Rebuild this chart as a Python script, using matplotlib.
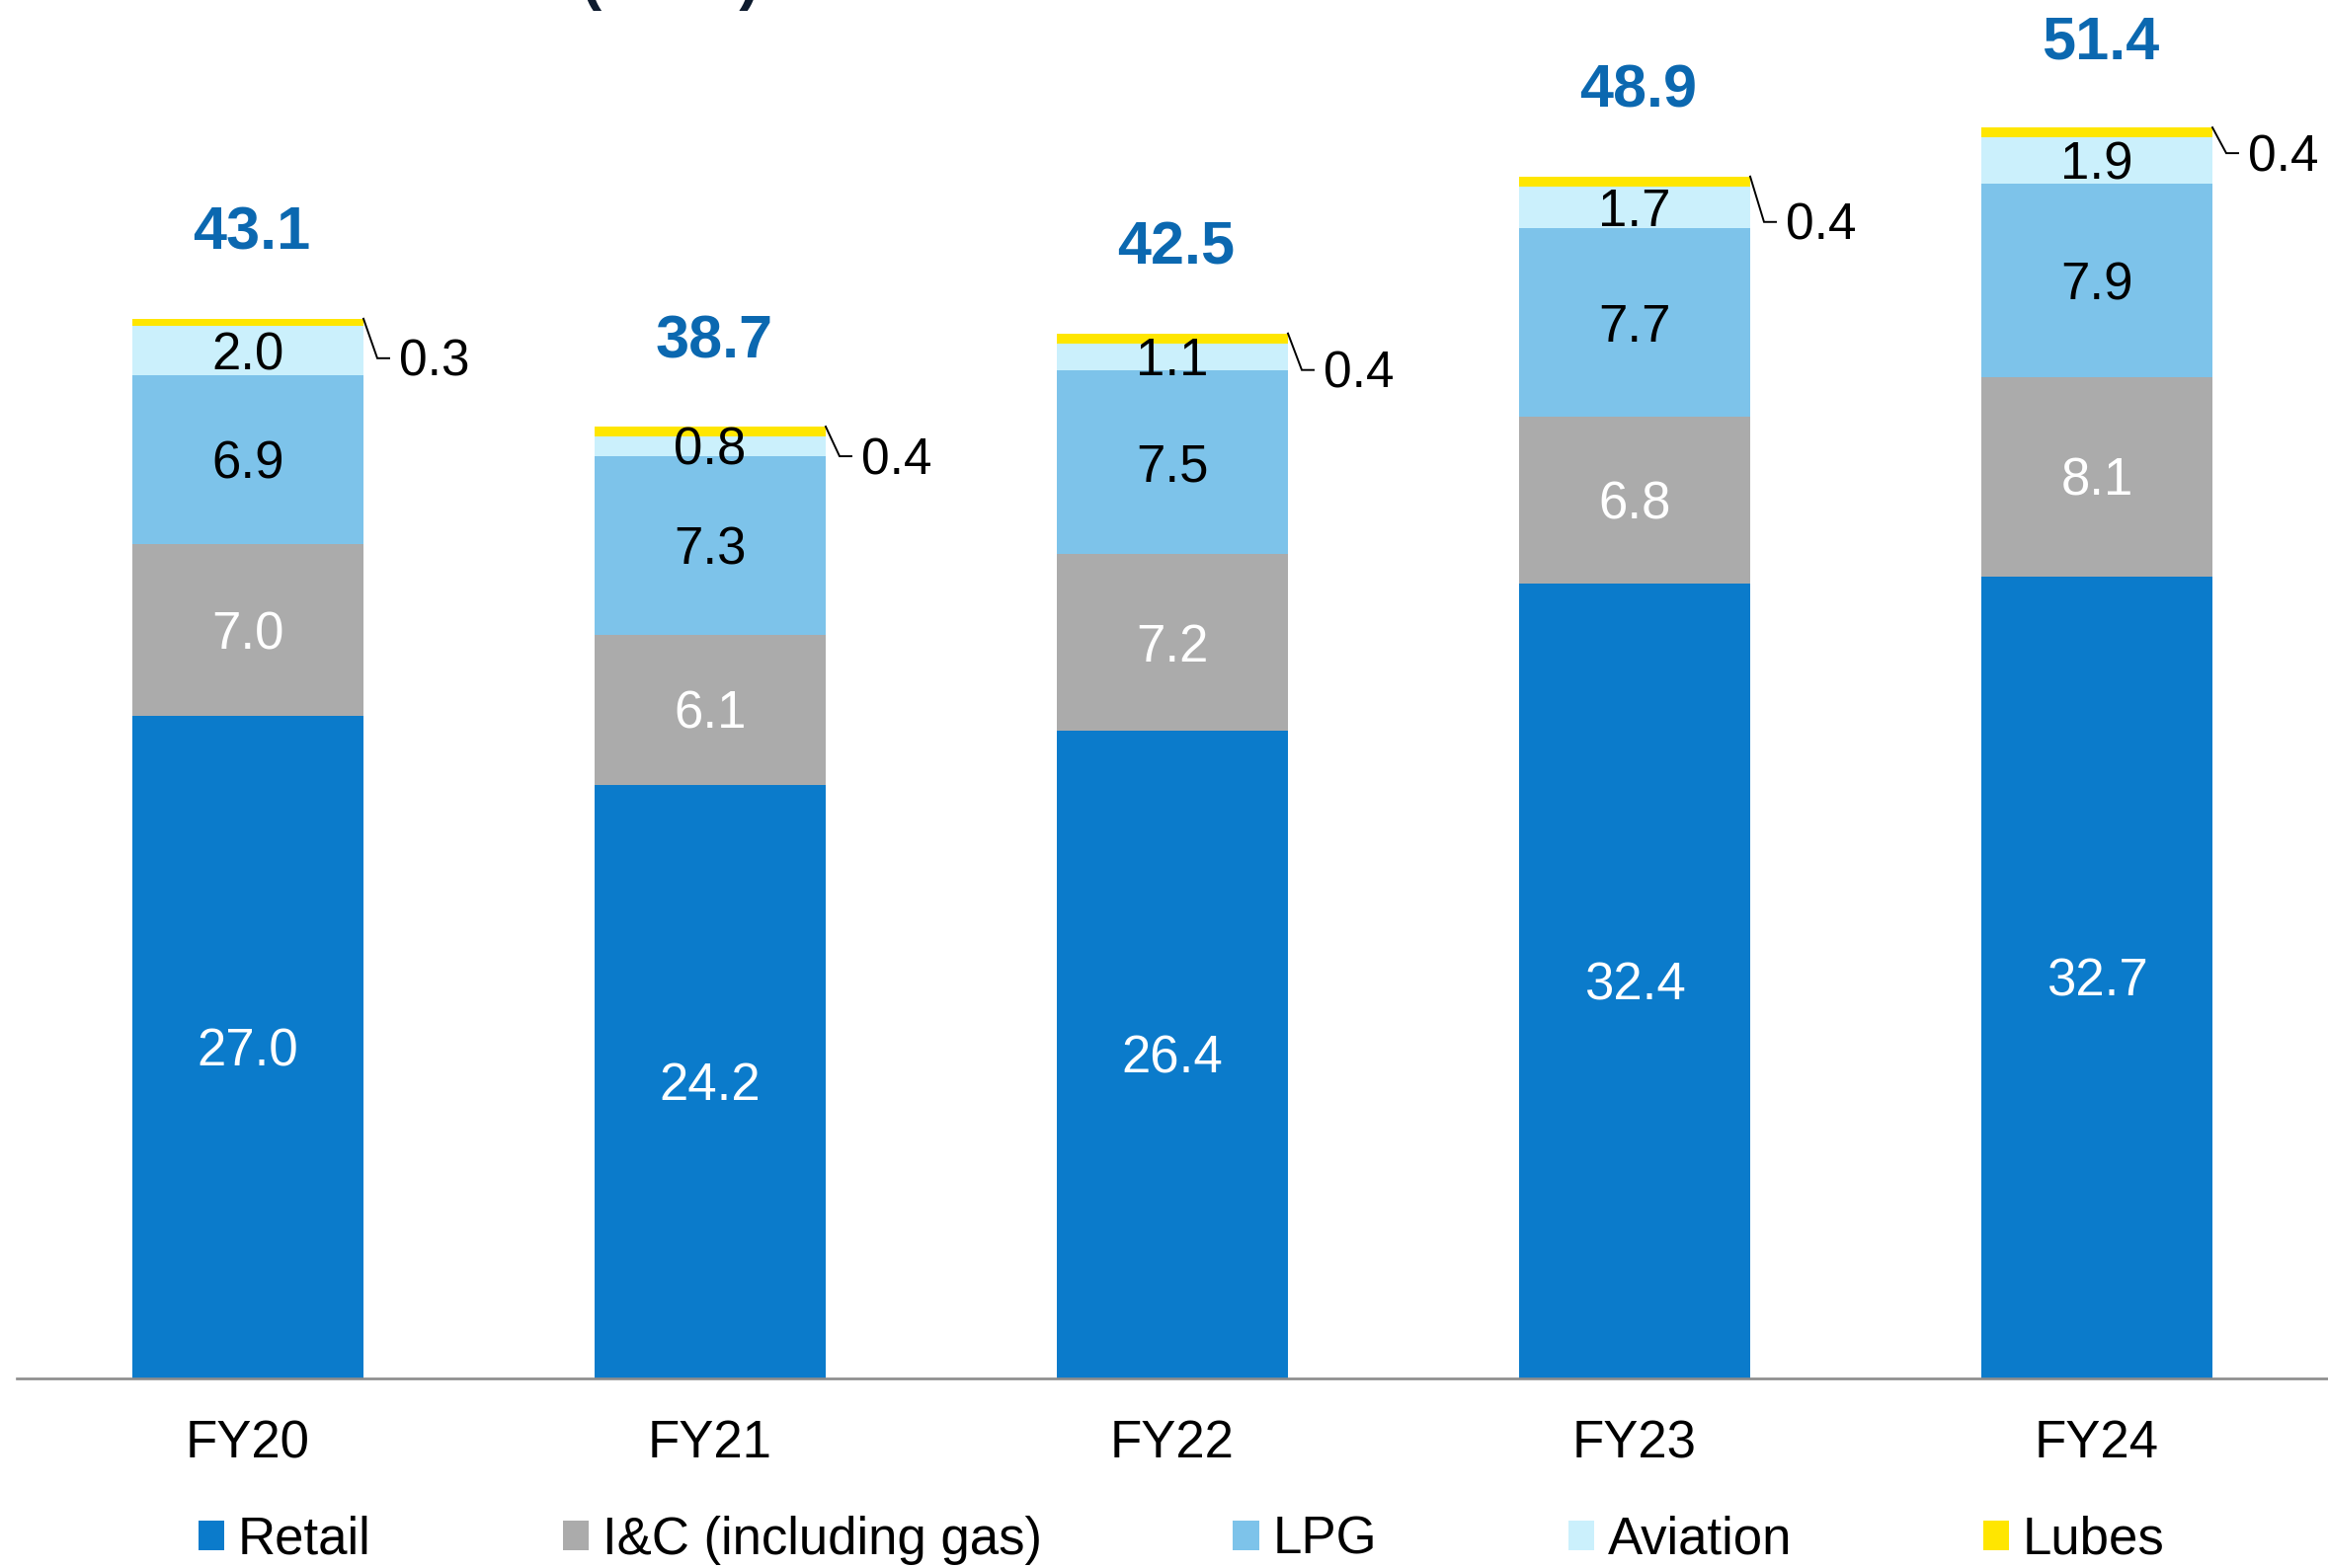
import matplotlib
matplotlib.use("Agg")
import matplotlib.pyplot as plt
from matplotlib.patches import Patch
import numpy as np

plt.rcParams['font.family'] = ['Liberation Sans', 'DejaVu Sans']

# Ventas por segmento (MMT)
years = ["FY20", "FY21", "FY22", "FY23", "FY24"]
retail = [27.0, 24.2, 26.4, 32.4, 32.7]
ic_gas = [7.0, 6.1, 7.2, 6.8, 8.1]
lpg = [6.9, 7.3, 7.5, 7.7, 7.9]
aviation = [2.0, 0.8, 1.1, 1.7, 1.9]
lubes = [0.3, 0.4, 0.4, 0.4, 0.4]
totals = [43.1, 38.7, 42.5, 48.9, 51.4]

series = [retail, ic_gas, lpg, aviation, lubes]
names = ["Retail", "I&C (including gas)", "LPG", "Aviation", "Lubes"]
colors = ["#0B7BCB", "#ABABAB", "#7DC3EA", "#CBF0FC", "#FFE600"]
text_colors = ["white", "white", "black", "black", None]

# caida de la linea guia de lubes (pixeles)
lube_drop = [40, 30, 37, 46, 26]

W, H = 2357, 1588
fig = plt.figure(figsize=(W / 100, H / 100), dpi=100)
ax = fig.add_axes([17 / W, (H - 1395.5) / H, 1 - 17 / W, 1395.5 / H])
ax.set_xlim(-0.5, 4.5)
ax.set_ylim(0, 56.2)

x = np.arange(len(years))
width = 0.5
bottom = np.zeros(len(years))
for vals, col, tcol in zip(series, colors, text_colors):
    vals = np.array(vals)
    ax.bar(x, vals, width, bottom=bottom, color=col, linewidth=0)
    if tcol is not None:
        for xi, b, v in zip(x, bottom, vals):
            ax.annotate(f"{v:.1f}", (xi, b + v / 2), xytext=(0, -19),
                        textcoords="offset pixels", ha="center", va="baseline",
                        fontsize=38, color=tcol)
    bottom += vals

# pixeles por unidad de datos
ppx = (W - 17) / 5.0
ppy = 1395.5 / 56.2

# etiquetas de lubes con linea guia
for xi, top, v, drop in zip(x, bottom, lubes, lube_drop):
    x0 = xi + width / 2
    x1 = x0 + 14 / ppx
    x2 = x1 + 12 / ppx
    y1 = top - drop / ppy
    ax.plot([x0, x1, x2], [top, y1, y1], color="black", lw=1.4,
            solid_joinstyle="miter", clip_on=False)
    ax.annotate(f"{v:.1f}", (x2, y1), xytext=(10, -18),
                textcoords="offset pixels", ha="left", va="baseline",
                fontsize=37, color="black")

# totales
for xi, top, t in zip(x, bottom, totals):
    ax.annotate(f"{t:.1f}", (xi, top), xytext=(4, 70),
                textcoords="offset pixels", ha="center", va="baseline",
                fontsize=44, fontweight="bold", color="#0B68B0")

for s in ["top", "left", "right"]:
    ax.spines[s].set_visible(False)
ax.spines["bottom"].set_color("#8C8C8C")
ax.spines["bottom"].set_linewidth(1.9)
ax.set_yticks([])
ax.set_xticks(x)
ax.set_xticklabels(years, fontsize=38)
ax.tick_params(axis="x", length=0, pad=30)

# titulo, cortado en el borde superior
fig.text(769 / W, 1 + 2 / H, "Market Sales (MMT)", ha="right", va="baseline",
         fontsize=44, fontweight="bold", color="#0D1B2E")

handles = [Patch(facecolor=c, edgecolor="none") for c in colors]
fig.legend(handles, names, ncol=5, loc="center left",
           bbox_to_anchor=(201 / W, 28 / H), fontsize=38, frameon=False,
           handlelength=0.5, handleheight=0.5, handletextpad=0.26,
           columnspacing=3.67, borderpad=0, borderaxespad=0)

fig.savefig("out.png", dpi=100)
